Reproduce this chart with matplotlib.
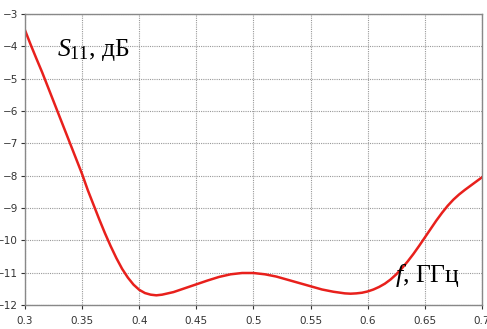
import matplotlib
matplotlib.use("Agg")
import matplotlib.pyplot as plt

plt.rcParams["mathtext.fontset"] = "custom"
plt.rcParams["mathtext.rm"] = "Liberation Serif"
plt.rcParams["mathtext.it"] = "Liberation Serif:italic"

# Frequency (GHz) and S11 (dB)
freq = [0.300, 0.305, 0.310, 0.315, 0.320, 0.325, 0.330, 0.335, 0.340, 0.345,
        0.350, 0.355, 0.360, 0.365, 0.370, 0.375, 0.380, 0.385, 0.390, 0.395,
        0.400, 0.405, 0.410, 0.415, 0.420, 0.430, 0.440, 0.450, 0.460, 0.470,
        0.480, 0.490, 0.500, 0.510, 0.520, 0.530, 0.540, 0.550, 0.560, 0.570,
        0.580, 0.585, 0.590, 0.595, 0.600, 0.605, 0.610, 0.615, 0.620, 0.625,
        0.630, 0.635, 0.640, 0.645, 0.650, 0.655, 0.660, 0.665, 0.670, 0.675,
        0.680, 0.685, 0.690, 0.695, 0.700]
s11 = [-3.5, -3.95, -4.38, -4.8, -5.25, -5.7, -6.15, -6.6, -7.05, -7.5,
       -7.95, -8.45, -8.9, -9.35, -9.78, -10.18, -10.55, -10.88, -11.15, -11.37,
       -11.53, -11.63, -11.68, -11.70, -11.68, -11.6, -11.48, -11.36, -11.24, -11.13,
       -11.05, -11.01, -11.01, -11.05, -11.12, -11.22, -11.32, -11.42, -11.52, -11.59,
       -11.64, -11.65, -11.64, -11.62, -11.58, -11.52, -11.44, -11.34, -11.21, -11.05,
       -10.86, -10.65, -10.42, -10.17, -9.91, -9.65, -9.39, -9.15, -8.93, -8.74,
       -8.58, -8.44, -8.31, -8.18, -8.05]

x_ticks = [0.3, 0.35, 0.4, 0.45, 0.5, 0.55, 0.6, 0.65, 0.7]
x_labels = ["0.3", "0.35", "0.4", "0.45", "0.5", "0.55", "0.6", "0.65", "0.7"]
y_ticks = list(range(-12, -2))

fig = plt.figure(figsize=(4.87, 3.29), dpi=100)
ax = fig.add_axes([0.0513, 0.0729, 0.9384, 0.8845])

ax.plot(freq, s11, color="#e8201c", linewidth=1.8)

ax.set_xlim(0.3, 0.7)
ax.set_ylim(-12, -3)
ax.set_xticks(x_ticks)
ax.set_xticklabels(x_labels)
ax.set_yticks(y_ticks)
ax.tick_params(labelsize=7.5, colors="#333333", length=3, width=0.8, pad=2)
ax.tick_params(axis="x", pad=5)

ax.grid(True, color="#999999", linestyle=(0, (1, 1)), linewidth=0.8)
for sp in ax.spines.values():
    sp.set_color("#888888")
    sp.set_linewidth(1.0)

ax.text(0.328, -4.1, r"$S_{11}$, дБ", fontsize=18.5, family="Liberation Serif",
        va="center", ha="left")
ax.text(0.624, -11.1, r"$f$, ГГц", fontsize=18.5, family="Liberation Serif",
        va="center", ha="left")

plt.savefig("out.png", dpi=100)
plt.close()
